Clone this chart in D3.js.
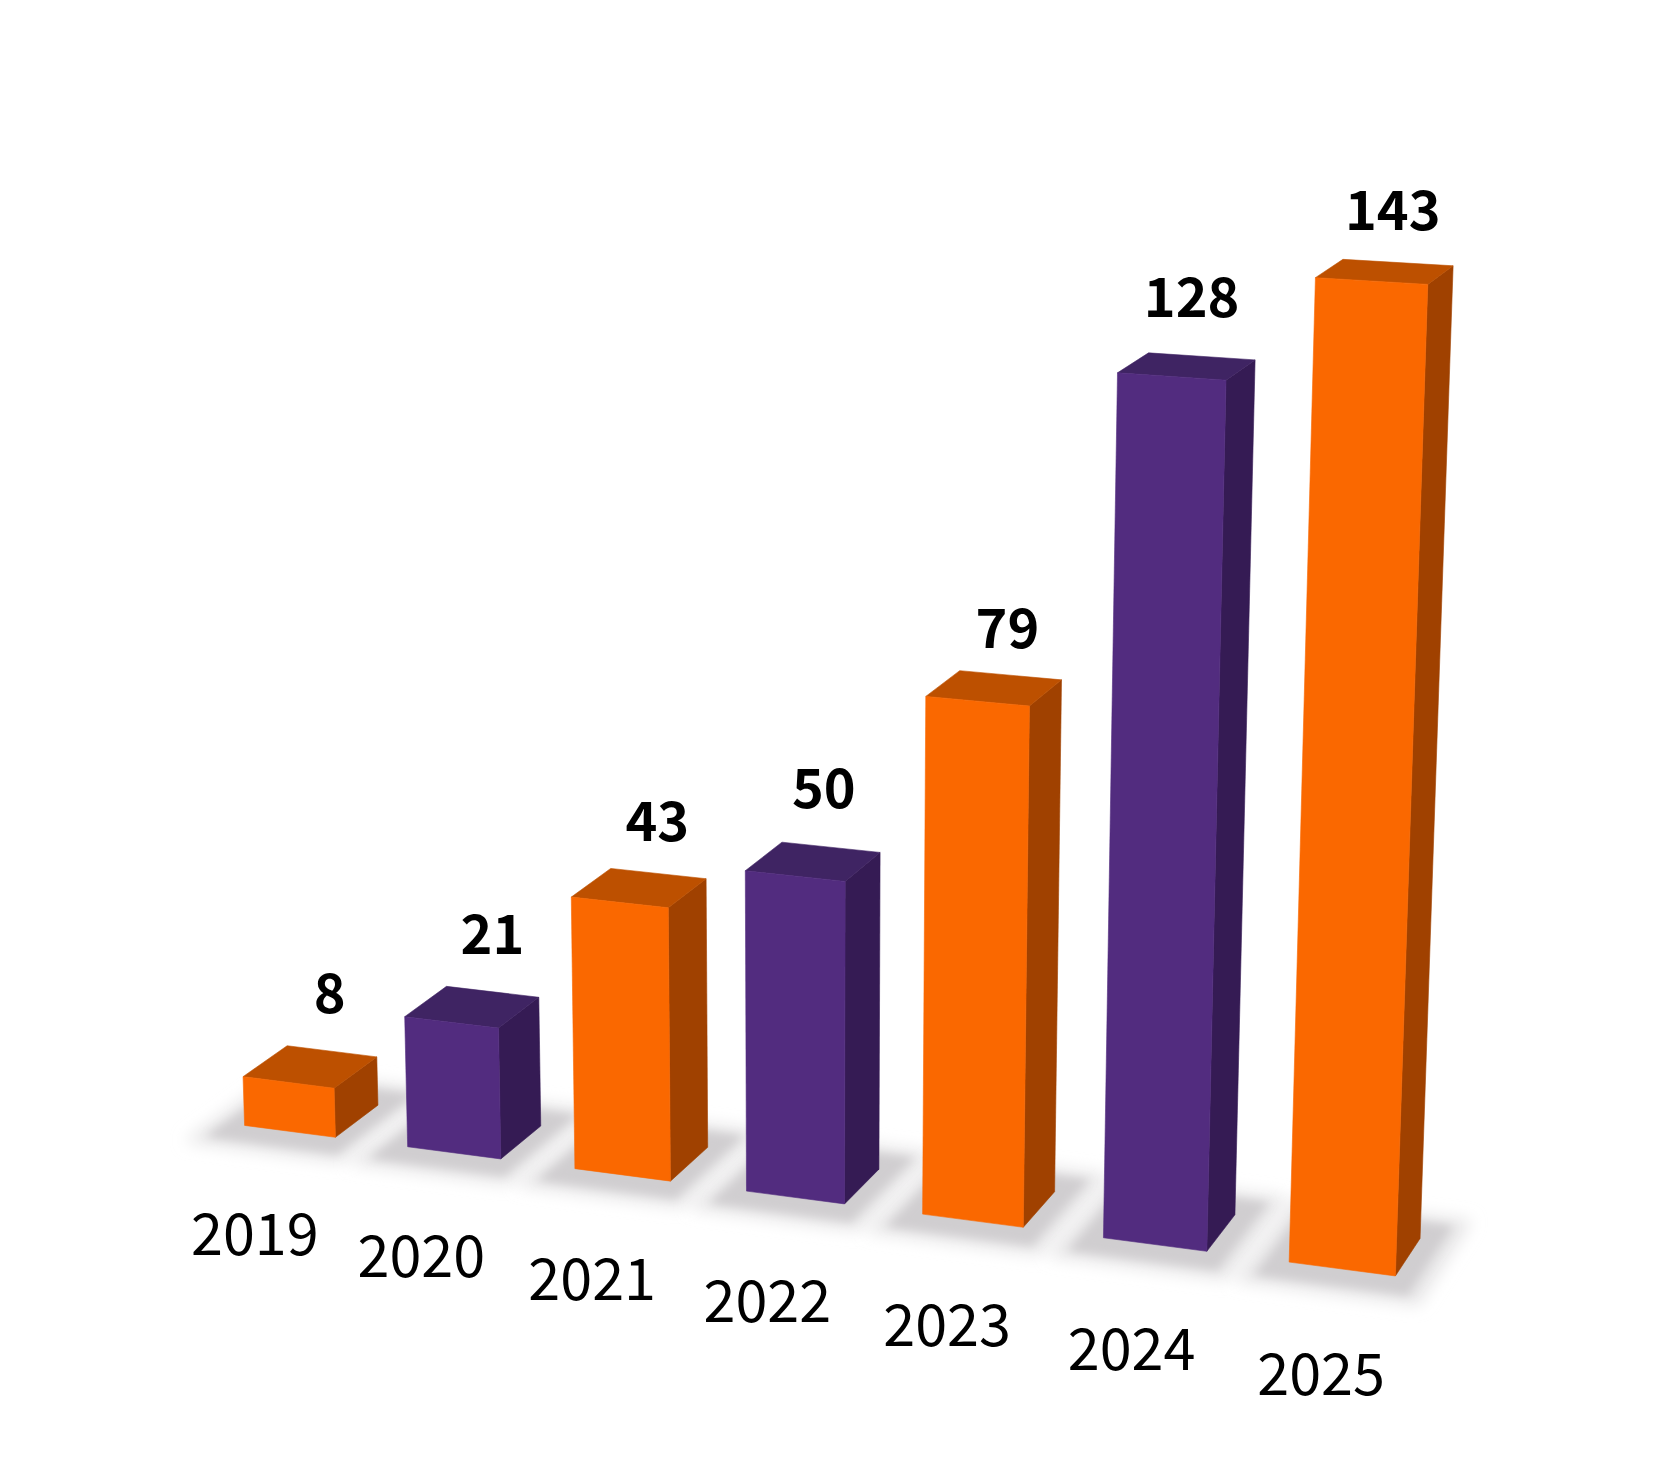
<!DOCTYPE html>
<html>
<head>
<meta charset="utf-8">
<script src="https://cdn.jsdelivr.net/npm/d3@7"></script>
<style>
body { margin: 0; background: #fff; }
text { font-family: "Noto Sans CJK JP", "Noto Sans", sans-serif; fill: #000; text-anchor: middle; }
.value { font-size: 54px; font-weight: 700; }
.year { font-size: 57.5px; font-weight: 400; }
</style>
</head>
<body>
<svg width="1663" height="1466"></svg>
<script>
// **** Data ****
const years = ['2019', '2020', '2021', '2022', '2023', '2024', '2025'];
const counts = [8, 21, 43, 50, 79, 128, 143];
const tones = ['orange', 'purple', 'orange', 'purple', 'orange', 'purple', 'orange'];

const faceColors = {
    orange: { front: '#fa6800', top: '#bd5000', side: '#a04100' },
    purple: { front: '#522c7f', top: '#3f2463', side: '#351b54' }
};

// **** Scales: floor position, height, depth go through one camera ****
const xScale = d3.scaleBand().domain(years).range([0, 7]).paddingInner(0.44).paddingOuter(0.22);
const hScale = d3.scaleLinear().domain([0, 100]).range([0, 1]);

// camera matrix, fitted to the corners of the bars in the picture
const camX = [0.157519, -0.027424, 0.049216, 0.209274];
const camY = [0.006952, -0.644296, -0.011141, 1.120806];
const camW = [-0.012487, -0.033726, 0.018748, 1];

function project(u, count, depth) {
    const h = hScale(count);
    const dot = c => c[0] * u + c[1] * h + c[2] * depth + c[3];
    return [1000 * dot(camX) / dot(camW), 1000 * dot(camY) / dot(camW)];
}

const svg = d3.select('svg');
const line = d3.line().curve(d3.curveLinearClosed);

const defs = svg.append('defs');
defs.append('filter').attr('id', 'blurWide')
    .attr('x', '-40%').attr('y', '-40%').attr('width', '180%').attr('height', '180%')
    .append('feGaussianBlur').attr('stdDeviation', 8);
defs.append('filter').attr('id', 'blurNear')
    .attr('x', '-40%').attr('y', '-40%').attr('width', '180%').attr('height', '180%')
    .append('feGaussianBlur').attr('stdDeviation', 5);

const bars = years.map((year, i) => ({
    year: year,
    i: i,
    count: counts[i],
    colors: faceColors[tones[i]],
    u0: xScale(year),
    u1: xScale(year) + xScale.bandwidth()
}));

// **** Floor shadows ****
function floorPatch(d, du, dw) {
    return line([
        project(d.u0 - du, 0, -dw),
        project(d.u1 + du, 0, -dw),
        project(d.u1 + du, 0, 1 + dw),
        project(d.u0 - du, 0, 1 + dw)
    ]);
}

const shadows = svg.append('g');
shadows.selectAll('path.wide').data(bars).enter().append('path')
    .attr('class', 'wide')
    .attr('d', d => floorPatch(d, 0.2, 0.62))
    .attr('fill', '#e6e5e6')
    .attr('filter', 'url(#blurWide)');
shadows.selectAll('path.near').data(bars).enter().append('path')
    .attr('class', 'near')
    .attr('d', d => floorPatch(d, 0.12, 0.42))
    .attr('fill', '#d0ced0')
    .attr('filter', 'url(#blurNear)');

// **** Bars ****
const barGroups = svg.selectAll('g.bar').data(bars).enter().append('g').attr('class', 'bar');

function addFace(corners, colorName) {
    barGroups.append('path')
        .attr('d', d => line(corners(d)))
        .attr('fill', d => d.colors[colorName])
        .attr('stroke', d => d.colors[colorName])
        .attr('stroke-width', 0.6);
}

addFace(d => [
    project(d.u1, d.count, 0), project(d.u1, d.count, 1),
    project(d.u1, 0, 1), project(d.u1, 0, 0)
], 'side');

addFace(d => [
    project(d.u0, d.count, 0), project(d.u1, d.count, 0),
    project(d.u1, d.count, 1), project(d.u0, d.count, 1)
], 'top');

addFace(d => [
    project(d.u0, d.count, 0), project(d.u1, d.count, 0),
    project(d.u1, 0, 0), project(d.u0, 0, 0)
], 'front');

// **** Labels ****
// hand placement of the value labels in the original, offset from the bar top
const valueNudgeX = [2, 4, 3, -3, 1, -6, -1];
const valueNudgeY = [-4, -4, 1, -5, 7, -5, 1];

svg.selectAll('text.value').data(bars).enter().append('text')
    .attr('class', 'value')
    .attr('x', d => project((d.u0 + d.u1) / 2, d.count, 1)[0] - 4 + valueNudgeX[d.i])
    .attr('y', d => project((d.u0 + d.u1) / 2, d.count, 1)[1] - 34 + valueNudgeY[d.i])
    .text(d => d.count);

const yearShift = d3.scaleLinear().domain([0, 6]).range([-35, -21]);
const yearDrop = d3.scaleLinear().domain([0, 6]).range([124, 126]);

svg.selectAll('text.year').data(bars).enter().append('text')
    .attr('class', 'year')
    .attr('x', d => project((d.u0 + d.u1) / 2, 0, 0)[0] + yearShift(d.i))
    .attr('y', d => project((d.u0 + d.u1) / 2, 0, 0)[1] + yearDrop(d.i))
    .text(d => d.year);
</script>
</body>
</html>
